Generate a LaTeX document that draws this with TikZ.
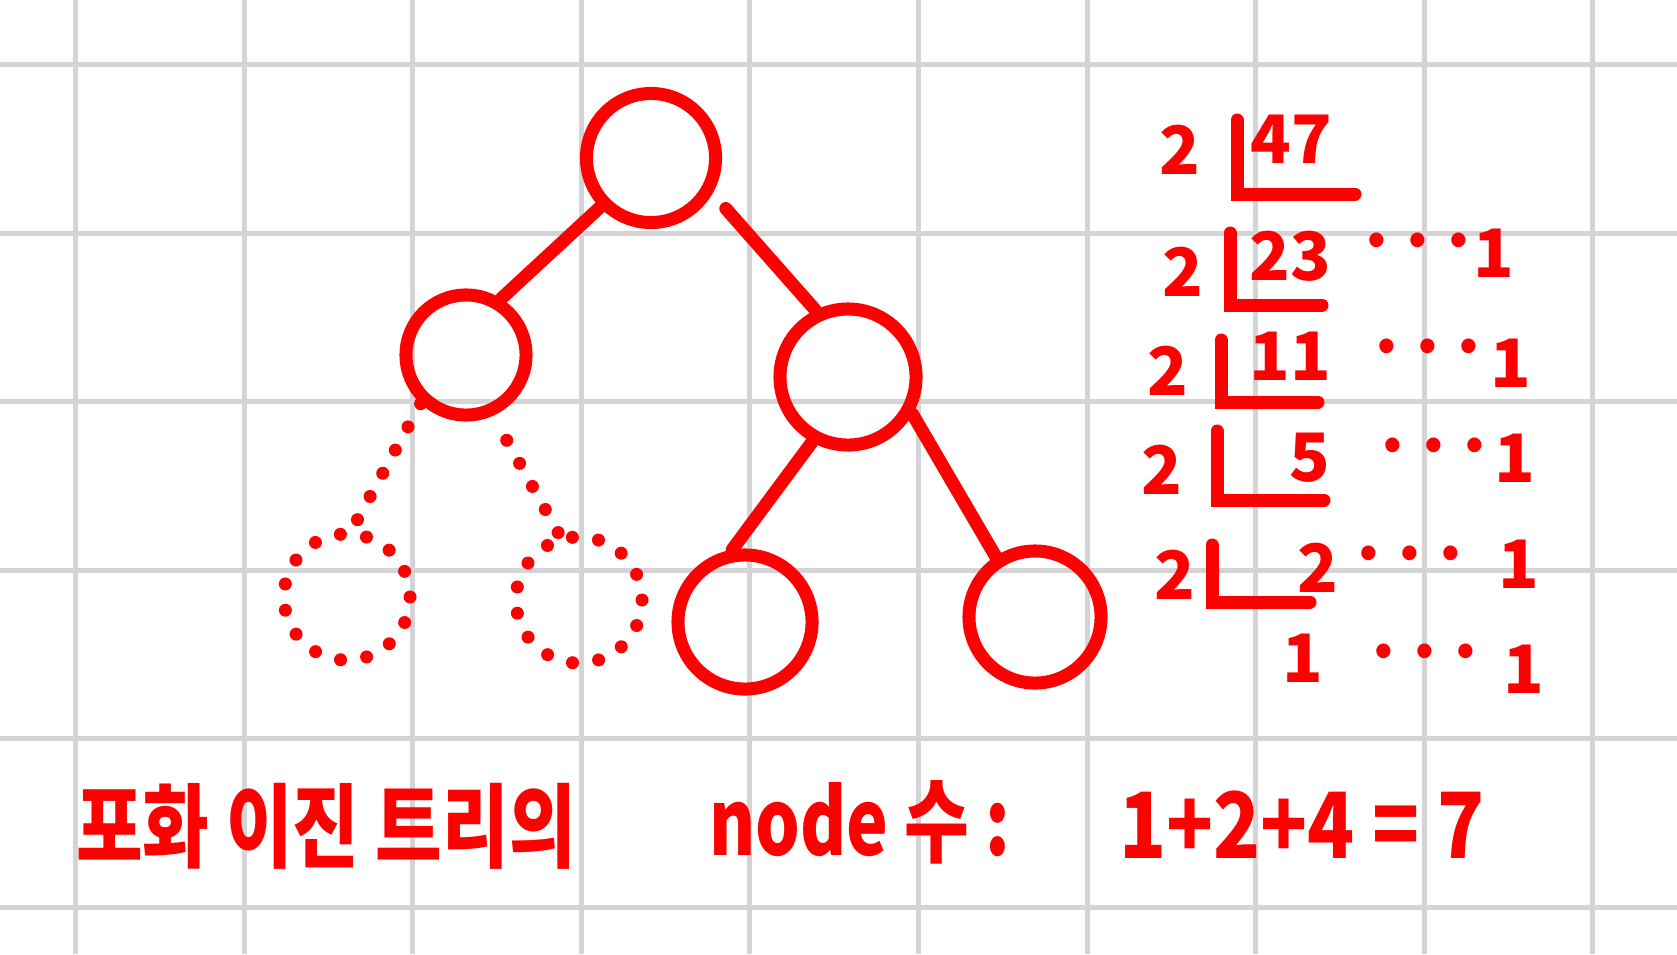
\documentclass[tikz,border=0pt]{standalone}
\usepackage{fontspec}
\setmainfont{Noto Sans CJK KR}
\usetikzlibrary{positioning}
\definecolor{rouge}{RGB}{255,0,0}
\definecolor{grisgrille}{RGB}{212,212,214}

\begin{document}
\begin{tikzpicture}[
	x=0.01cm, y=-0.01cm,
	grille/.style={draw=grisgrille, line width=1.4pt},
	sommet/.style={circle, draw=rouge, line width=3.7pt, inner sep=0pt, minimum size=#1},
	sommet/.default=1.32cm,
	arete/.style={draw=rouge, line width=3.7pt, line cap=round},
	pointille/.style={draw=rouge, line width=3.7pt, line cap=round, dash pattern=on 0pt off 0.264cm},
	texte/.style={text=rouge, inner sep=0pt, font=\fontsize{20}{24}\selectfont\bfseries},
	chiffre/.style={text=rouge, inner sep=0pt, font=\fontsize{19}{22}\selectfont\bfseries},
	]

	% Le fond quadrillé
	\fill[white] (0,0) rectangle (1677,954);
	\useasboundingbox (0,0) rectangle (1677,954);
	\foreach \gx in {0,...,9}
		\draw[grille] ({75.5+168.6*\gx},0) -- ++(0,954);
	\foreach \gy in {0,...,5}
		\draw[grille] (0,{64.5+168.6*\gy}) -- ++(1677,0);

	% Les sommets
	\node[sommet=1.29cm] (racine) at (651,158) {};
	\node[sommet=1.20cm] (gauche) at (466,355) {};
	\node[sommet=1.36cm] (droite) at (848,377) {};
	\node[sommet=1.34cm] (dg) at (745,622) {};
	\node[sommet=1.32cm] (dd) at (1035,617) {};
	\node[circle, pointille, inner sep=0pt, minimum size=1.26cm] (pg) at (347,597) {};
	\node[circle, pointille, inner sep=0pt, minimum size=1.26cm] (pd) at (579,600) {};

	% Les arêtes
	\draw[arete] (racine.224) -- (gauche.58);
	\draw[arete, shorten <=0.2cm] (racine.-30) -- (droite.116);
	\draw[arete] (droite.241) -- (dg.100);
	\draw[arete] (droite.-30) -- (dd.123);
	\draw[pointille] (gauche.227) -- (pg.85);
	\draw[pointille, shorten <=0.28cm] (gauche.-66) -- (pd.107);

	% La division par 2
	\node[chiffre] (k1) at (1180,150) {2};
	\node[chiffre] (n1) at (1291,139) {47};
	\node[chiffre] (k2) at (1183,272) {2};
	\node[chiffre] (n2) at (1290,256) {23};
	\node[chiffre] (p2) at (1418,249) {···};
	\node[chiffre] (r2) at (1494,253) {1};
	\node[chiffre] (k3) at (1168,371) {2};
	\node[chiffre] (n3) at (1290,356) {11};
	\node[chiffre] (p3) at (1428,355) {···};
	\node[chiffre] (r3) at (1511,363) {1};
	\node[chiffre] (k4) at (1162,470) {2};
	\node[chiffre] (n4) at (1310,458) {5};
	\node[chiffre] (p4) at (1434,454) {···};
	\node[chiffre] (r4) at (1515,458) {1};
	\node[chiffre] (k5) at (1175,575) {2};
	\node[chiffre] (n5) at (1318,568) {2};
	\node[chiffre] (p5) at (1410,562) {···};
	\node[chiffre] (r5) at (1519,564) {1};
	\node[chiffre] (n6) at (1303,658) {1};
	\node[chiffre] (p6) at (1425,660) {···};
	\node[chiffre] (r6) at (1524,669) {1};
	\draw[arete] (1237,120) |- (1355,194);
	\draw[arete] (1230,233) |- (1322,305);
	\draw[arete] (1221,340) |- (1318,402);
	\draw[arete] (1217,431) |- (1324,500);
	\draw[arete] (1212,545) |- (1310,602);

	% Le texte du bas
	\node[texte] (titre) at (326,826) {\scalebox{1.03}[1.3]{포화 이진 트리의}};
	\node[texte] (compte) at (860,822) {\scalebox{1}[1.3]{node 수 :}};
	\node[texte] (somme) at (1302,825) {\scalebox{1.1}[1.3]{1+2+4 = 7}};
\end{tikzpicture}
\end{document}
